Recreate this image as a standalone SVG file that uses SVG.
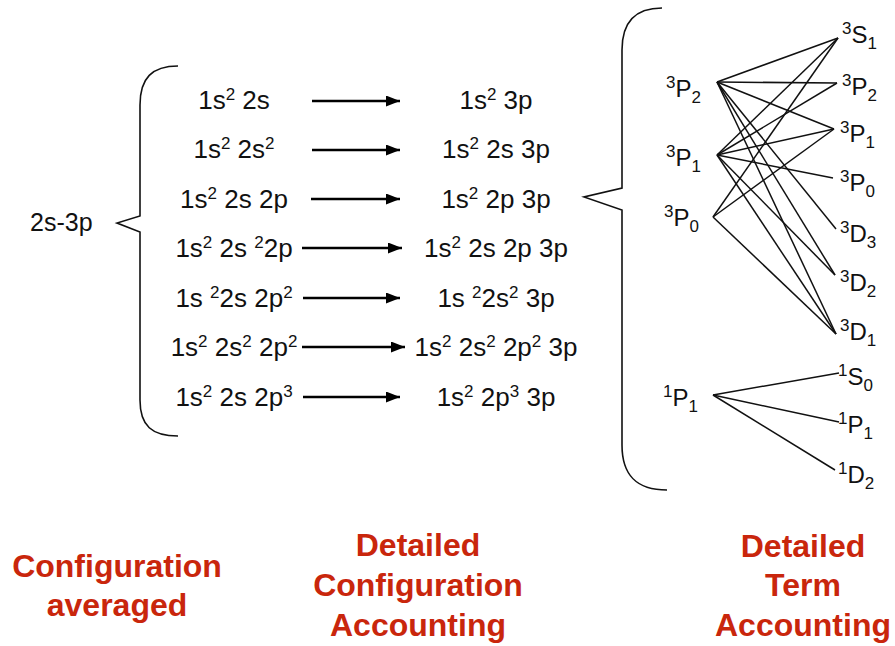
<svg xmlns="http://www.w3.org/2000/svg" width="895" height="646" viewBox="0 0 895 646">
<defs>
<style>
text{font-family:"Liberation Sans",Arial,sans-serif;fill:#111}
.cfg{font-size:26px;text-anchor:middle}
.term{font-size:24px}
.sup{font-size:17px;baseline-shift:9px}
.sub{font-size:17px;baseline-shift:-6px}
.lbl{font-size:32px;font-weight:bold;fill:#c9260c;text-anchor:middle}
.brace{fill:none;stroke:#111;stroke-width:1.6}
.arr{stroke:#000;stroke-width:2.6;fill:none}
.ln{stroke:#111;stroke-width:1.5}
</style>
<marker id="ah" viewBox="0 0 14 11" refX="14" refY="5.5" markerWidth="14" markerHeight="11" markerUnits="userSpaceOnUse" orient="auto">
<path d="M0,0 L14,5.5 L0,11 z" fill="#000"/>
</marker>
</defs>
<rect width="895" height="646" fill="#fff"/>

<g id="root-label"><text class="term" x="30" y="231" style="font-size:25px">2s-3p</text></g>

<g id="brace-left"><path class="brace" d="M178,66 C152,66 140,78 140,105 L140,216 L117,223 L140,232 L140,400 C140,426 152,436 178,436"/></g>
<g id="brace-right"><path class="brace" d="M662,8 C636,8 622,22 622,50 L622,188 L584,197 L622,210 L622,445 C622,475 636,490 667,490"/></g>

<g id="cfg-left">
<text class="cfg" x="234" y="109">1s<tspan class="sup">2</tspan> 2s</text>
<text class="cfg" x="234" y="158">1s<tspan class="sup">2</tspan> 2s<tspan class="sup">2</tspan></text>
<text class="cfg" x="234" y="208">1s<tspan class="sup">2</tspan> 2s 2p</text>
<text class="cfg" x="234" y="257">1s<tspan class="sup">2</tspan> 2s <tspan class="sup">2</tspan>2p</text>
<text class="cfg" x="234" y="307">1s <tspan class="sup">2</tspan>2s 2p<tspan class="sup">2</tspan></text>
<text class="cfg" x="234" y="356">1s<tspan class="sup">2</tspan> 2s<tspan class="sup">2</tspan> 2p<tspan class="sup">2</tspan></text>
<text class="cfg" x="234" y="406">1s<tspan class="sup">2</tspan> 2s 2p<tspan class="sup">3</tspan></text>
</g>

<g id="cfg-right">
<text class="cfg" x="496" y="109">1s<tspan class="sup">2</tspan> 3p</text>
<text class="cfg" x="496" y="158">1s<tspan class="sup">2</tspan> 2s 3p</text>
<text class="cfg" x="496" y="208">1s<tspan class="sup">2</tspan> 2p 3p</text>
<text class="cfg" x="496" y="257">1s<tspan class="sup">2</tspan> 2s 2p 3p</text>
<text class="cfg" x="496" y="307">1s <tspan class="sup">2</tspan>2s<tspan class="sup">2</tspan> 3p</text>
<text class="cfg" x="496" y="356">1s<tspan class="sup">2</tspan> 2s<tspan class="sup">2</tspan> 2p<tspan class="sup">2</tspan> 3p</text>
<text class="cfg" x="496" y="406">1s<tspan class="sup">2</tspan> 2p<tspan class="sup">3</tspan> 3p</text>
</g>

<g id="terms-left">
<text class="term" x="666" y="97"><tspan class="sup">3</tspan>P<tspan class="sub">2</tspan></text>
<text class="term" x="666" y="166"><tspan class="sup">3</tspan>P<tspan class="sub">1</tspan></text>
<text class="term" x="664" y="226"><tspan class="sup">3</tspan>P<tspan class="sub">0</tspan></text>
<text class="term" x="663" y="406"><tspan class="sup">1</tspan>P<tspan class="sub">1</tspan></text>
</g>

<g id="terms-right">
<text class="term" x="842" y="43"><tspan class="sup">3</tspan>S<tspan class="sub">1</tspan></text>
<text class="term" x="842" y="95"><tspan class="sup">3</tspan>P<tspan class="sub">2</tspan></text>
<text class="term" x="840" y="142"><tspan class="sup">3</tspan>P<tspan class="sub">1</tspan></text>
<text class="term" x="840" y="191"><tspan class="sup">3</tspan>P<tspan class="sub">0</tspan></text>
<text class="term" x="840" y="242"><tspan class="sup">3</tspan>D<tspan class="sub">3</tspan></text>
<text class="term" x="840" y="291"><tspan class="sup">3</tspan>D<tspan class="sub">2</tspan></text>
<text class="term" x="840" y="340"><tspan class="sup">3</tspan>D<tspan class="sub">1</tspan></text>
<text class="term" x="838" y="385"><tspan class="sup">1</tspan>S<tspan class="sub">0</tspan></text>
<text class="term" x="838" y="433"><tspan class="sup">1</tspan>P<tspan class="sub">1</tspan></text>
<text class="term" x="838" y="483"><tspan class="sup">1</tspan>D<tspan class="sub">2</tspan></text>
</g>

<g id="connectors">
<line class="arr" x1="312" y1="101" x2="400" y2="101" marker-end="url(#ah)"/>
<line class="arr" x1="312" y1="150" x2="400" y2="150" marker-end="url(#ah)"/>
<line class="arr" x1="311" y1="199" x2="400" y2="199" marker-end="url(#ah)"/>
<line class="arr" x1="302" y1="248" x2="402" y2="248" marker-end="url(#ah)"/>
<line class="arr" x1="303" y1="298" x2="400" y2="298" marker-end="url(#ah)"/>
<line class="arr" x1="302" y1="347" x2="405" y2="347" marker-end="url(#ah)"/>
<line class="arr" x1="303" y1="397" x2="400" y2="397" marker-end="url(#ah)"/>

<line class="ln" x1="717" y1="82" x2="838" y2="38"/>
<line class="ln" x1="717" y1="82" x2="837" y2="83"/>
<line class="ln" x1="717" y1="82" x2="834" y2="129"/>
<line class="ln" x1="717" y1="82" x2="836" y2="229"/>
<line class="ln" x1="717" y1="82" x2="835" y2="275"/>
<line class="ln" x1="717" y1="82" x2="836" y2="334"/>
<line class="ln" x1="717" y1="155" x2="838" y2="38"/>
<line class="ln" x1="717" y1="155" x2="837" y2="83"/>
<line class="ln" x1="717" y1="155" x2="834" y2="129"/>
<line class="ln" x1="717" y1="155" x2="833" y2="178"/>
<line class="ln" x1="717" y1="155" x2="835" y2="275"/>
<line class="ln" x1="717" y1="155" x2="836" y2="334"/>
<line class="ln" x1="713" y1="217" x2="838" y2="38"/>
<line class="ln" x1="713" y1="217" x2="834" y2="129"/>
<line class="ln" x1="713" y1="217" x2="836" y2="334"/>
<line class="ln" x1="713" y1="395" x2="839" y2="373"/>
<line class="ln" x1="713" y1="395" x2="839" y2="422"/>
<line class="ln" x1="713" y1="395" x2="835" y2="470"/>
</g>

<g id="labels">
<text class="lbl" x="117" y="577">Configuration</text>
<text class="lbl" x="117" y="616">averaged</text>
<text class="lbl" x="418" y="556">Detailed</text>
<text class="lbl" x="418" y="596">Configuration</text>
<text class="lbl" x="418" y="636">Accounting</text>
<text class="lbl" x="803" y="557">Detailed</text>
<text class="lbl" x="803" y="596">Term</text>
<text class="lbl" x="803" y="636">Accounting</text>
</g>
</svg>
